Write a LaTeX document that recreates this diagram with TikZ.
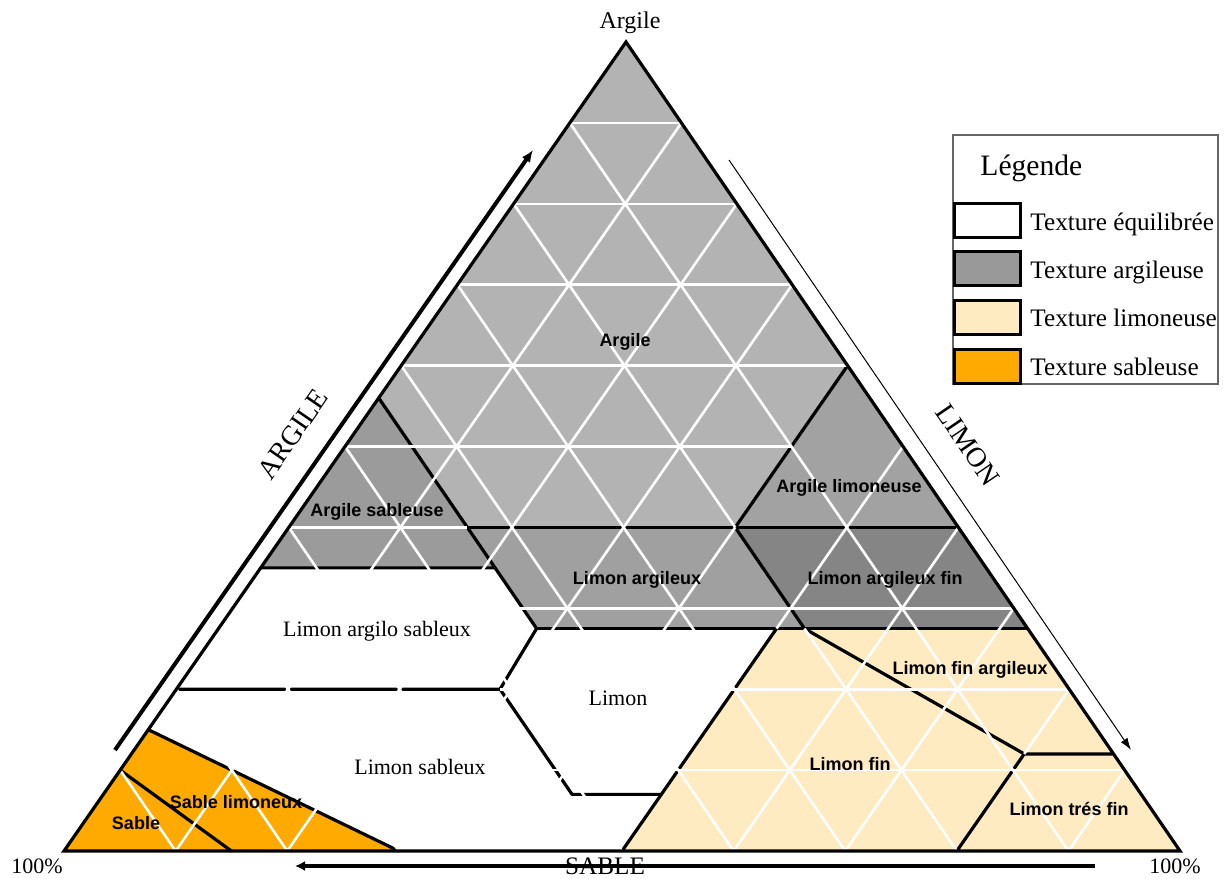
\documentclass[tikz,border=0pt]{standalone}
\usepackage{fontspec}
\setmainfont{Liberation Serif}
\setsansfont{Liberation Sans}
\usetikzlibrary{arrows.meta}
\definecolor{cArg}{RGB}{179,179,179}
\definecolor{cArgS}{RGB}{155,155,155}
\definecolor{cLimA}{RGB}{160,160,160}
\definecolor{cArgL}{RGB}{162,162,162}
\definecolor{cLimAF}{RGB}{133,133,133}
\definecolor{cBeige}{RGB}{255,235,194}
\definecolor{cOrange}{RGB}{255,170,0}
\definecolor{cLegGray}{RGB}{153,153,153}
\newcommand{\ternpt}[4]{\coordinate (#1) at (barycentric cs:CL=#2,SI=#3,SA=#4);}
\begin{document}
\begin{tikzpicture}[x=0.5pt,y=-0.5pt,
  bline/.style={line width=1.6pt,line join=round,line cap=round},
  wgrid/.style={white,line width=1.3pt},
  cls/.style={font=\sffamily\bfseries\fontsize{9}{10}\selectfont,anchor=base,inner sep=0pt},
  clst/.style={font=\fontsize{11}{13}\selectfont,anchor=base,inner sep=0pt},
  legtxt/.style={font=\fontsize{12.6}{14}\selectfont,anchor=base west,inner sep=0pt},
  swatch/.style={draw=black,line width=1.5pt},
  axlbl/.style={font=\fontsize{14}{16}\selectfont,inner sep=0pt},
  cornerlbl/.style={font=\fontsize{11}{13}\selectfont,anchor=base,inner sep=0pt}]

\useasboundingbox (0,0) rectangle (1225,878);
\fill[white] (0,0) rectangle (1225,878);

% triangle corners
\coordinate (SA) at (64,851);
\coordinate (SI) at (1180,851);
\coordinate (CL) at (626,42);

% boundary points  (clay, silt, sand)
\ternpt{L56}{0.56}{0}{0.44}
\ternpt{P40a}{0.4}{0.16}{0.44}
\ternpt{P35a}{0.35}{0.21}{0.44}
\ternpt{L35}{0.35}{0}{0.65}
\ternpt{P275a}{0.275}{0.285}{0.44}
\ternpt{P20a}{0.2}{0.29}{0.51}
\ternpt{L20}{0.2}{0}{0.8}
\ternpt{P07a}{0.07}{0.42}{0.51}
\ternpt{P07b}{0.07}{0.5}{0.43}
\ternpt{B50}{0}{0.5}{0.5}
\ternpt{P275b}{0.275}{0.5}{0.225}
\ternpt{P275c}{0.275}{0.525}{0.2}
\ternpt{R275}{0.275}{0.725}{0}
\ternpt{P40b}{0.4}{0.4}{0.2}
\ternpt{R40}{0.4}{0.6}{0}
\ternpt{R60}{0.6}{0.4}{0}
\ternpt{P12}{0.12}{0.8}{0.08}
\ternpt{R12}{0.12}{0.88}{0}
\ternpt{B80}{0}{0.8}{0.2}
\ternpt{L15}{0.15}{0}{0.85}
\ternpt{B30}{0}{0.3}{0.7}
\ternpt{L10}{0.1}{0}{0.9}
\ternpt{B15}{0}{0.15}{0.85}

% region fills
\fill[cArg] (CL) -- (L56) -- (P40a) -- (P40b) -- (R60) -- cycle;
\fill[cArgS] (L56) -- (L35) -- (P35a) -- (P40a) -- cycle;
\fill[cLimA] (P40a) -- (P40b) -- (P275c) -- (P275a) -- cycle;
\fill[cArgL] (R60) -- (P40b) -- (R40) -- cycle;
\fill[cLimAF] (P40b) -- (R40) -- (R275) -- (P275c) -- cycle;
\fill[cBeige] (P275b) -- (R275) -- (SI) -- (B50) -- cycle;
\fill[cOrange] (SA) -- (L15) -- (B30) -- cycle;

% black class boundaries
\draw[bline] (L56) -- (P40a) -- (P35a) -- (P275a) -- (P20a) -- (P07a) -- (P07b);
\draw[bline] (L35) -- (P35a);
\draw[bline] (P40a) -- (R40);
\draw[bline] (P275a) -- (R275);
\draw[bline] (L20) -- (P20a);
\draw[bline] (P275b) -- (B50);
\draw[bline] (R60) -- (P40b) -- (P275c) -- (P12) -- (R12);
\draw[bline] (P12) -- (B80);
\draw[bline] (L15) -- (B30);
\draw[bline] (L10) -- (B15);

% white 10 % grid
\foreach \hc/\hs/\he in {0.1/0.12/0.9, 0.2/0.29/0.8, 0.3/0/0.7, 0.4/0/0.16, 0.5/0/0.4, 0.6/0/0.4, 0.7/0/0.3, 0.8/0/0.2, 0.9/0/0.1}{
  \pgfmathsetmacro{\wa}{1-\hc-\hs}
  \pgfmathsetmacro{\wb}{1-\hc-\he}
  \draw[wgrid] (barycentric cs:CL=\hc,SI=\hs,SA=\wa) -- (barycentric cs:CL=\hc,SI=\he,SA=\wb);
}
\foreach \ls/\ka/\kb in {0.1/0.9/0, 0.2/0.8/0, 0.3/0.7/0, 0.4/0.4/0, 0.5/0.5/0.275, 0.6/0.4/0, 0.7/0.3/0, 0.8/0.2/0.12, 0.9/0.1/0}{
  \pgfmathsetmacro{\wa}{1-\ls-\ka}
  \pgfmathsetmacro{\wb}{1-\ls-\kb}
  \draw[wgrid] (barycentric cs:CL=\ka,SI=\ls,SA=\wa) -- (barycentric cs:CL=\kb,SI=\ls,SA=\wb);
}
\foreach \ld/\ka/\kb in {0.1/0.9/0, 0.2/0.8/0.4, 0.2/0.275/0, 0.3/0.7/0, 0.4/0.6/0, 0.5/0.5/0, 0.6/0.4/0, 0.7/0.3/0, 0.8/0.2/0, 0.9/0.1/0}{
  \pgfmathsetmacro{\wa}{1-\ld-\ka}
  \pgfmathsetmacro{\wb}{1-\ld-\kb}
  \draw[wgrid] (barycentric cs:CL=\ka,SI=\wa,SA=\ld) -- (barycentric cs:CL=\kb,SI=\wb,SA=\ld);
}

% triangle outline
\draw[line width=1.6pt,line join=miter] (SA) -- (SI) -- (CL) -- cycle;

% class labels
\node[cls] (nArg) at (625,346) {Argile};
\node[cls] (nArgS) at (377,516) {Argile sableuse};
\node[cls] (nArgL) at (849,492) {Argile limoneuse};
\node[cls] (nLimA) at (637,584) {Limon argileux};
\node[cls] (nLimAF) at (885,584) {Limon argileux fin};
\node[cls] (nLimFA) at (970,674) {Limon fin argileux};
\node[cls] (nLimF) at (850,770) {Limon fin};
\node[cls] (nLimTF) at (1069,815) {Limon trés fin};
\node[cls] (nSabL) at (236,808) {Sable limoneux};
\node[cls] (nSab) at (136,829) {Sable};
\node[clst] (nLAS) at (377,636) {Limon argilo sableux};
\node[clst] (nLim) at (618,705) {Limon};
\node[clst] (nLS) at (420,774) {Limon sableux};

% axis arrows
\coordinate (ga1) at (115,750);
\coordinate (ga2) at (533,150);
\draw[line width=2pt,-{Latex[length=6pt,width=5pt]}] (ga1) -- (ga2);
\coordinate (lm1) at (729,160);
\coordinate (lm2) at (1131,750);
\draw[line width=0.5pt,-{Latex[length=6pt,width=4pt]}] (lm1) -- (lm2);
\coordinate (sb1) at (1095,866);
\coordinate (sb2) at (295,866);
\draw[line width=2.2pt,-{Latex[length=5pt,width=5pt]}] (sb1) -- (sb2);

% axis and corner labels
\node[axlbl,rotate=55.3] (tArgile) at (293,434) {ARGILE};
\node[axlbl,rotate=-55.6] (tLimon) at (968,445) {LIMON};
\node[font=\fontsize{12.6}{14}\selectfont,anchor=base,inner sep=0pt] (tSable) at (605,874) {SABLE};
\node[font=\fontsize{12}{14}\selectfont,anchor=base,inner sep=0pt] (tApex) at (630,28) {Argile};
\node[cornerlbl] (tLeft) at (37,873) {100\%};
\node[cornerlbl] (tRight) at (1175,873) {100\%};

% legend
\draw[draw=black!60,line width=0.8pt] (953,135) rectangle (1218,384);
\node[font=\fontsize{14.8}{16}\selectfont,anchor=base west,inner sep=0pt] (lgT) at (980,175) {Légende};
\draw[swatch,fill=white] (954,203) rectangle (1020,237);
\draw[swatch,fill=cLegGray] (954,251) rectangle (1020,285);
\draw[swatch,fill=cBeige] (954,300) rectangle (1020,334);
\draw[swatch,fill=cOrange] (954,349) rectangle (1020,383);
\node[legtxt] (lg1) at (1030,230) {Texture équilibrée};
\node[legtxt] (lg2) at (1030,278) {Texture argileuse};
\node[legtxt] (lg3) at (1030,326) {Texture limoneuse};
\node[legtxt] (lg4) at (1030,375) {Texture sableuse};
\end{tikzpicture}
\end{document}
